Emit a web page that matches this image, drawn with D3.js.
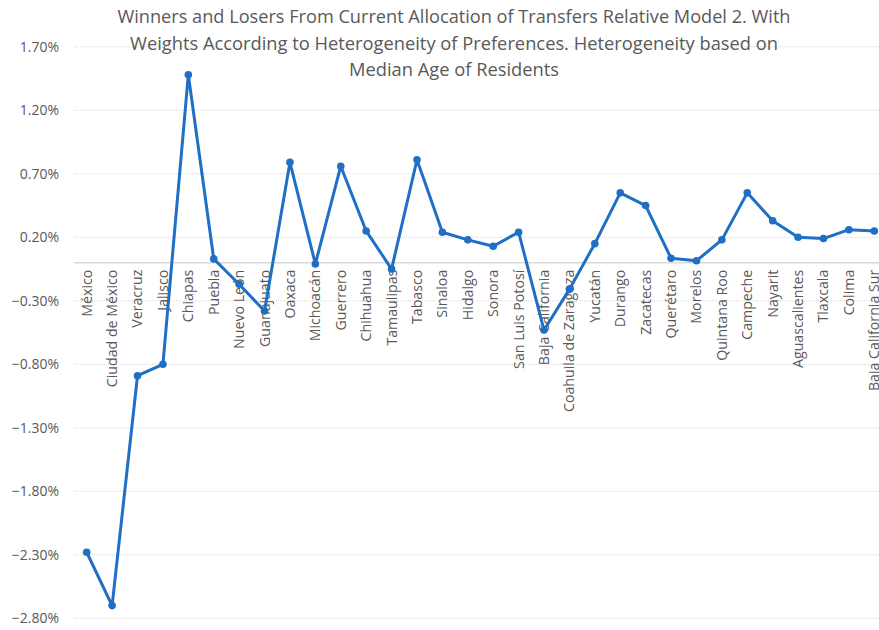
<!DOCTYPE html>
<html>
<head>
<meta charset="utf-8">
<script src="https://cdn.jsdelivr.net/npm/d3@7"></script>
<style>
  body { margin: 0; background: #fff; }
  svg { display: block; font-family: "Open Sans", sans-serif; }
</style>
</head>
<body>
<svg id="chart" width="879" height="630"></svg>
<script>
const states = ["México","Ciudad de México","Veracruz","Jalisco","Chiapas","Puebla","Nuevo León","Guanajuato","Oaxaca","Michoacán","Guerrero","Chihuahua","Tamaulipas","Tabasco","Sinaloa","Hidalgo","Sonora","San Luis Potosí","Baja California","Coahuila de Zaragoza","Yucatán","Durango","Zacatecas","Querétaro","Morelos","Quintana Roo","Campeche","Nayarit","Aguascalientes","Tlaxcala","Colima","Baja California Sur"];
const values = [-2.28,-2.70,-0.89,-0.80,1.48,0.03,-0.17,-0.38,0.79,-0.01,0.76,0.25,-0.05,0.81,0.24,0.18,0.13,0.24,-0.53,-0.21,0.15,0.55,0.45,0.035,0.015,0.18,0.55,0.33,0.20,0.19,0.26,0.25];
const yTicks = [-2.8,-2.3,-1.8,-1.3,-0.8,-0.3,0.2,0.7,1.2,1.7];
const titleLines = [
  "Winners and Losers From Current Allocation of Transfers Relative Model 2. With",
  "Weights According to Heterogeneity of Preferences. Heterogeneity based on",
  "Median Age of Residents"
];

const svg = d3.select("#chart");
const plotLeft = 74, plotRight = 887;
const x = d3.scalePoint().domain(states).range([86.7, 874.3]);
const y = d3.scaleLinear().domain([-2.8, 1.7]).range([618.3, 46.8]);
const textColor = "#595959";
const lineColor = "#1f6fc5";

// gridlines
svg.append("g").selectAll("line").data(yTicks).join("line")
  .attr("x1", plotLeft).attr("x2", plotRight)
  .attr("y1", d => y(d)).attr("y2", d => y(d))
  .attr("stroke", "#d9d9d9").attr("stroke-width", 1)
  .attr("stroke-dasharray", "1,1");

// y axis labels
const yAxis = d3.axisLeft(y).tickValues(yTicks).tickSize(0).tickPadding(0)
  .tickFormat(d => d3.format(".2f")(d) + "%");
const gy = svg.append("g").attr("transform", "translate(59,0)").call(yAxis);
gy.select(".domain").remove();
gy.selectAll("text").attr("fill", textColor).attr("font-size", 14)
  .attr("font-family", "Open Sans, sans-serif");

// zero line
svg.append("line").attr("x1", plotLeft).attr("x2", plotRight)
  .attr("y1", y(0)).attr("y2", y(0))
  .attr("stroke", "#d9d9d9").attr("stroke-width", 1.5);

// category labels
svg.append("g").selectAll("text").data(states).join("text")
  .attr("transform", d => `translate(${x(d)},${y(0) + 7}) rotate(-90)`)
  .attr("text-anchor", "end").attr("dy", "0.35em")
  .attr("font-size", 14.2).attr("fill", textColor)
  .text(d => d);

// line
const pts = states.map((s, i) => [x(s), y(values[i])]);
svg.append("path").attr("d", d3.line()(pts))
  .attr("fill", "none").attr("stroke", lineColor).attr("stroke-width", 3)
  .attr("stroke-linejoin", "round");
svg.append("g").selectAll("circle").data(pts).join("circle")
  .attr("cx", d => d[0]).attr("cy", d => d[1]).attr("r", 3.8)
  .attr("fill", lineColor);

// title
const titleWidths = [673, 648, 210];
const titleY = [23, 50, 76];
svg.append("g").selectAll("text").data(titleLines).join("text")
  .attr("x", 454).attr("y", (d, i) => titleY[i])
  .attr("text-anchor", "middle").attr("font-size", 18.5).attr("fill", textColor)
  .attr("textLength", (d, i) => titleWidths[i]).attr("lengthAdjust", "spacingAndGlyphs")
  .text(d => d);
</script>
</body>
</html>
